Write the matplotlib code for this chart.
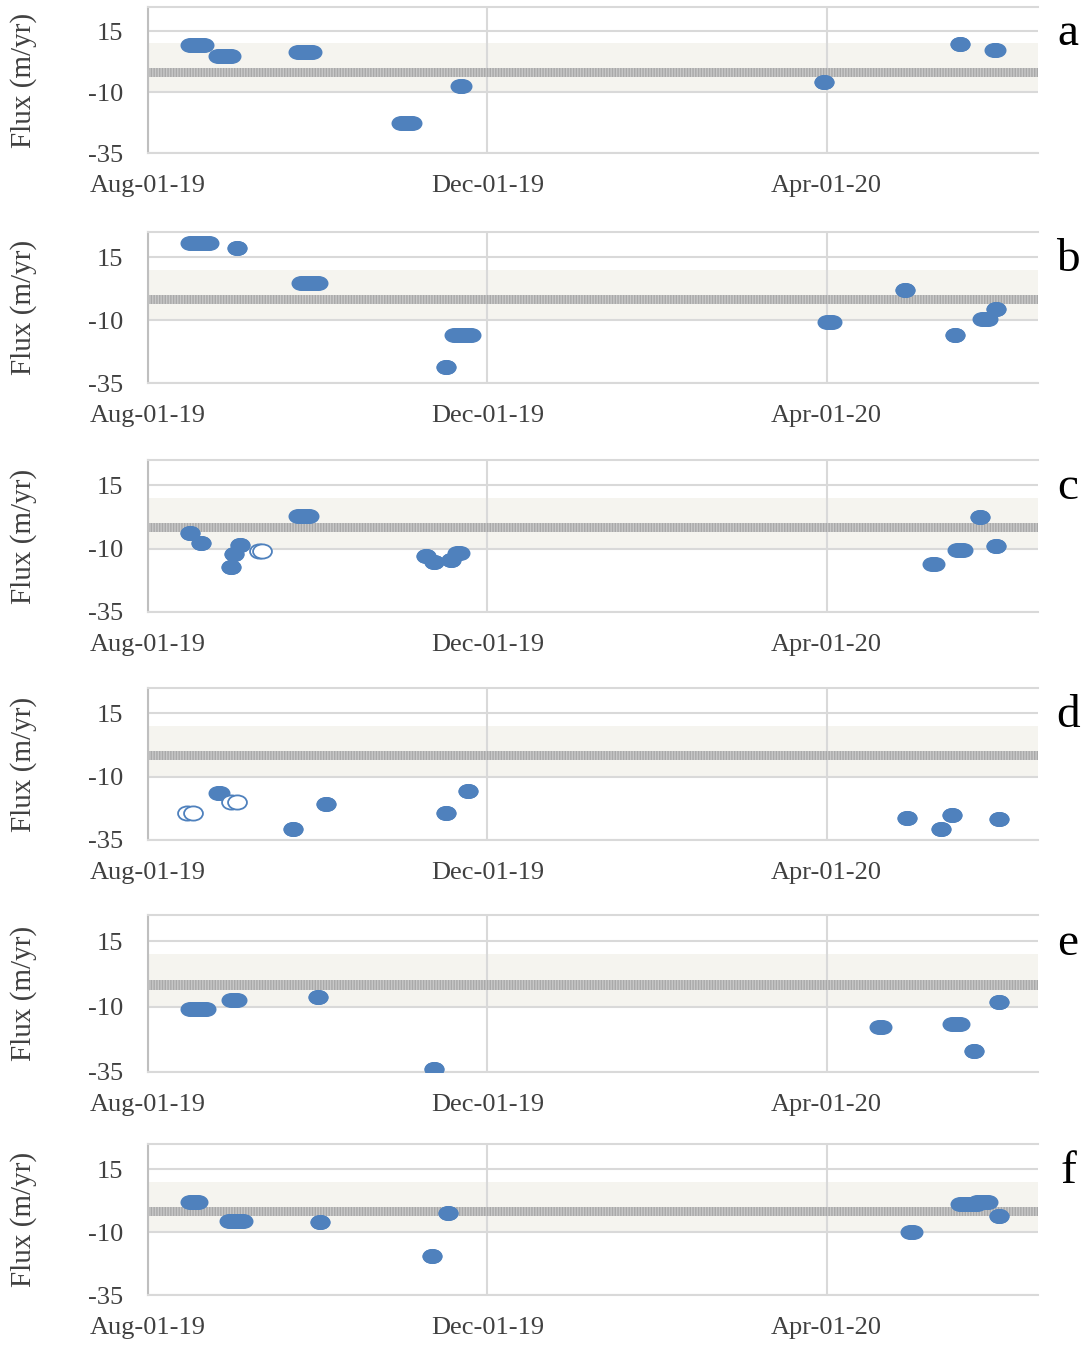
import numpy as np
import matplotlib
matplotlib.use("Agg")
import matplotlib.pyplot as plt
import matplotlib.dates as mdates
from matplotlib.path import Path
from matplotlib.transforms import Affine2D

plt.rcParams["font.family"] = ["Liberation Serif", "DejaVu Serif"]
plt.rcParams["hatch.linewidth"] = 1.0

# ---------------------------------------------------------------------------
# Data: (first day, last day, flux in m/yr); a single day has first == last
# ---------------------------------------------------------------------------
panel_letters = ["a", "b", "c", "d", "e", "f"]

a_segments = [
    ("2019-08-16", "2019-08-21", 9.3),
    ("2019-08-26", "2019-08-31", 4.7),
    ("2019-09-24", "2019-09-29", 6.7),
    ("2019-10-31", "2019-11-04", -22.5),
    ("2019-11-21", "2019-11-22", -7.5),
    ("2020-03-31", "2020-03-31", -5.7),
    ("2020-05-19", "2020-05-19", 9.7),
    ("2020-05-31", "2020-06-01", 7.2),
]
b_segments = [
    ("2019-08-16", "2019-08-23", 20.6),
    ("2019-09-02", "2019-09-02", 18.6),
    ("2019-09-25", "2019-10-01", 4.7),
    ("2019-11-19", "2019-11-25", -15.8),
    ("2019-11-16", "2019-11-16", -28.5),
    ("2020-04-01", "2020-04-03", -10.8),
    ("2020-04-29", "2020-04-29", 1.8),
    ("2020-05-17", "2020-05-17", -15.8),
    ("2020-05-27", "2020-05-29", -9.5),
    ("2020-06-01", "2020-06-01", -5.6),
]
c_segments = [
    ("2019-08-16", "2019-08-16", -3.8),
    ("2019-08-20", "2019-08-20", -7.7),
    ("2019-08-31", "2019-08-31", -17.3),
    ("2019-09-01", "2019-09-01", -12.1),
    ("2019-09-03", "2019-09-03", -8.7),
    ("2019-09-24", "2019-09-28", 3.0),
    ("2019-11-09", "2019-11-09", -13.0),
    ("2019-11-12", "2019-11-12", -15.3),
    ("2019-11-18", "2019-11-18", -14.5),
    ("2019-11-20", "2019-11-21", -11.7),
    ("2020-05-09", "2020-05-10", -16.2),
    ("2020-05-18", "2020-05-20", -10.7),
    ("2020-05-26", "2020-05-26", 2.4),
    ("2020-06-01", "2020-06-01", -9.1),
]
d_segments = [
    ("2019-08-26", "2019-08-27", -16.5),
    ("2019-09-22", "2019-09-22", -30.6),
    ("2019-10-04", "2019-10-04", -20.7),
    ("2019-11-16", "2019-11-16", -24.3),
    ("2019-11-24", "2019-11-24", -15.6),
    ("2020-04-30", "2020-04-30", -26.5),
    ("2020-05-12", "2020-05-12", -30.5),
    ("2020-05-16", "2020-05-16", -25.0),
    ("2020-06-02", "2020-06-02", -26.9),
]
e_segments = [
    ("2019-08-16", "2019-08-22", -10.8),
    ("2019-08-31", "2019-09-02", -7.3),
    ("2019-10-01", "2019-10-01", -6.3),
    ("2019-11-12", "2019-11-12", -33.9),
    ("2020-04-20", "2020-04-21", -17.8),
    ("2020-05-16", "2020-05-19", -16.8),
    ("2020-05-24", "2020-05-24", -27.0),
    ("2020-06-02", "2020-06-02", -8.2),
]
f_segments = [
    ("2019-08-16", "2019-08-19", 1.9),
    ("2019-08-30", "2019-09-04", -5.5),
    ("2019-10-02", "2019-10-02", -6.0),
    ("2019-11-17", "2019-11-17", -2.5),
    ("2019-11-11", "2019-11-11", -19.5),
    ("2020-05-01", "2020-05-02", -10.1),
    ("2020-05-19", "2020-05-25", 1.3),
    ("2020-05-25", "2020-05-29", 2.0),
    ("2020-06-02", "2020-06-02", -3.5),
]

# open (hollow) markers: (day, flux)
c_open = [("2019-09-10", -11.1), ("2019-09-11", -11.1)]
d_open = [("2019-08-15", -24.2), ("2019-08-17", -24.2),
          ("2019-08-31", -20.0), ("2019-09-02", -20.0)]

all_segments = [a_segments, b_segments, c_segments, d_segments, e_segments, f_segments]
all_open = [[], [], c_open, d_open, [], []]

band_range = (-10, 10)        # shaded band
ref_line = (-3.6, 0.0)        # hatched reference line
y_ticks = [-35, -10, 15]
y_tick_labels = ["-35", "-10", "15"]
x_ticks = ["2019-08-01", "2019-12-01", "2020-04-01"]
x_range = ("2019-08-01", "2020-06-16")

# ---------------------------------------------------------------------------
BLUE = "#4f81bd"
GRID = "#d9d9d9"
TEXT = "#404040"
W, H = 1086, 1347
tops = [7, 232, 460, 688, 915, 1144]
bottoms = [153, 383, 612, 840, 1072, 1295]
left_px, right_px = 148, 1038

# slightly wide ellipse, the original image is stretched horizontally
ellipse = Path.unit_circle().transformed(Affine2D().scale(1.33, 1.0))

fig = plt.figure(figsize=(W / 100, H / 100), dpi=100)

for i, letter in enumerate(panel_letters):
    ax = fig.add_axes([left_px / W, 1 - bottoms[i] / H,
                       (right_px - left_px) / W, (bottoms[i] - tops[i]) / H])
    ax.set_ylim(-35, 25)
    ax.set_xlim(np.datetime64(x_range[0]), np.datetime64(x_range[1]))

    ax.axhspan(*band_range, facecolor="#f5f4ef", edgecolor="none", zorder=0.2)
    ax.axhspan(*ref_line, facecolor="#c8c8c8", edgecolor="#a9a9a9",
               hatch="||||||", lw=0, zorder=1)

    for start, end, flux in all_segments[i]:
        xs = np.array([start, end], dtype="datetime64[D]")
        ax.plot(xs, [flux, flux], color=BLUE, lw=10.8, solid_capstyle="butt",
                marker=ellipse, ms=14.4, mew=0, zorder=3)
    for day, flux in all_open[i]:
        ax.plot(np.array([day], dtype="datetime64[D]"), [flux], ls="none",
                marker=ellipse, ms=13.6, mfc="white", mec=BLUE, mew=1.3, zorder=4)

    ax.set_yticks(y_ticks)
    ax.set_yticklabels(y_tick_labels)
    ax.set_xticks(np.array(x_ticks, dtype="datetime64[D]"))
    ax.xaxis.set_major_formatter(mdates.DateFormatter("%b-%d-%y"))
    ax.tick_params(axis="y", length=0, pad=18, labelsize=19, colors=TEXT)
    ax.tick_params(axis="x", length=0, pad=16, labelsize=19, colors=TEXT)

    ax.set_axisbelow(True)
    ax.grid(True, color=GRID, lw=1.5)
    for side in ["top", "bottom"]:
        ax.spines[side].set_color(GRID)
        ax.spines[side].set_linewidth(1.5)
    ax.spines["left"].set_color("#bfbfbf")
    ax.spines["left"].set_linewidth(1.5)
    ax.spines["right"].set_visible(False)

    ax.set_ylabel("Flux (m/yr)", fontsize=21, color=TEXT)
    ax.yaxis.set_label_coords((37 - left_px) / (right_px - left_px), 0.5)

    ax.text((1068 - left_px) / (right_px - left_px), 14, letter,
            transform=ax.get_yaxis_transform(), ha="center", va="center",
            fontsize=34, color="black")

fig.savefig("out.png", dpi=100)
